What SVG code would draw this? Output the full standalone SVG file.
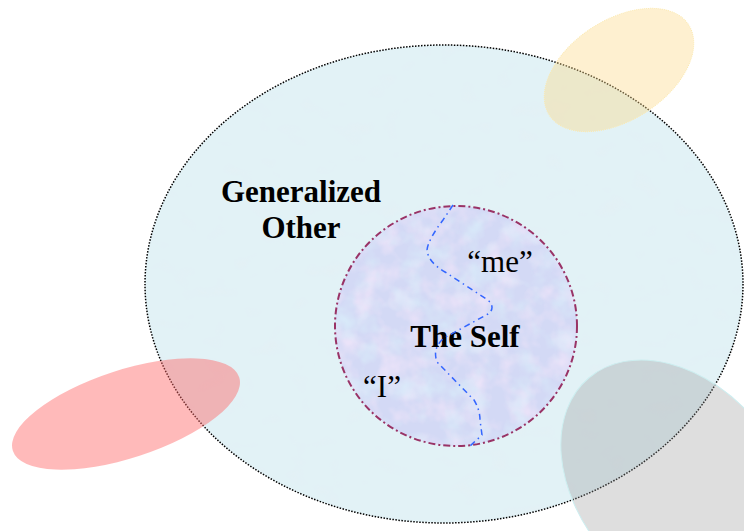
<svg xmlns="http://www.w3.org/2000/svg" width="744" height="531" viewBox="0 0 744 531">
<style>
  .lbl { font-family: "Liberation Serif", "Times New Roman", serif; font-size: 31px; fill: #000; }
  .b { font-weight: bold; }
</style>
<defs>
  <filter id="drops" x="0" y="0" width="100%" height="100%">
    <feTurbulence type="fractalNoise" baseFrequency="0.035 0.05" numOctaves="2" seed="7" result="n"/>
    <feColorMatrix in="n" type="matrix" values="0 0 0 0 0.78  0 0 0 0 0.86  0 0 0 0 0.9  0 0 -1.6 0 0.62" result="c"/>
    <feComposite in="c" in2="SourceGraphic" operator="in" result="cc"/>
    <feMerge><feMergeNode in="SourceGraphic"/><feMergeNode in="cc"/></feMerge>
  </filter>
  <filter id="mottle" x="0" y="0" width="100%" height="100%">
    <feTurbulence type="fractalNoise" baseFrequency="0.045" numOctaves="3" seed="3" result="n"/>
    <feColorMatrix in="n" type="matrix" values="0 0 0 0 0.9  0 0 0 0 0.8  0 0 0 0 0.96  1.6 0 0 0 -0.65" result="c"/>
    <feComposite in="c" in2="SourceGraphic" operator="in" result="cc"/>
    <feColorMatrix in="n" type="matrix" values="0 0 0 0 0.7  0 0 0 0 0.85  0 0 0 0 0.96  0 1.6 0 0 -0.7" result="d"/>
    <feComposite in="d" in2="SourceGraphic" operator="in" result="dd"/>
    <feMerge><feMergeNode in="SourceGraphic"/><feMergeNode in="cc"/><feMergeNode in="dd"/></feMerge>
  </filter>
</defs>
<rect width="744" height="531" fill="#ffffff"/>

<g id="generalized-other">
  <ellipse cx="444" cy="284" rx="299" ry="239" fill="#e2f2f6" filter="url(#drops)"/>
  <ellipse cx="444" cy="284" rx="299" ry="239" fill="none" stroke="#000" stroke-width="1.5" stroke-dasharray="1.5 1.5"/>
  <text class="lbl b" x="301" y="202" text-anchor="middle">Generalized</text>
  <text class="lbl b" x="301" y="238" text-anchor="middle">Other</text>
</g>

<g id="orange-blob">
  <ellipse cx="619" cy="70" rx="83" ry="50" transform="rotate(-33 619 70)" fill="#fcd98a" fill-opacity="0.4" stroke="#fbe9b0" stroke-width="1" stroke-dasharray="1 1"/>
</g>

<g id="red-blob">
  <ellipse cx="126" cy="414" rx="119" ry="44" transform="rotate(-18 126 414)" fill="#ff6666" fill-opacity="0.45"/>
</g>

<g id="gray-blob">
  <ellipse cx="679" cy="485" rx="140" ry="100" transform="rotate(50 679 485)" fill="#999999" fill-opacity="0.32" stroke="#cdeef0" stroke-width="1"/>
</g>

<g id="the-self">
  <ellipse cx="456" cy="326" rx="121" ry="120" fill="#d3d9f5" filter="url(#mottle)"/>
  <ellipse cx="456" cy="326" rx="121" ry="120" fill="none" stroke="#993366" stroke-width="2" stroke-dasharray="7 3 2 3"/>
  <text class="lbl b" x="465" y="347" text-anchor="middle">The Self</text>
  <text class="lbl" x="500" y="272" text-anchor="middle">“me”</text>
  <text class="lbl" x="382" y="397" text-anchor="middle">“I”</text>
</g>

<g id="connectors">
  <path d="M453,205 L443,220 Q428,240 427,250 Q428,262 445,272 L488,300 Q496,308 488,314 L444,338 Q432,348 437,362 L474,400 Q480,410 480,420 L482,435 L470,446" fill="none" stroke="#3366ff" stroke-width="1.5" stroke-dasharray="6 4 1.5 4"/>
</g>
</svg>
